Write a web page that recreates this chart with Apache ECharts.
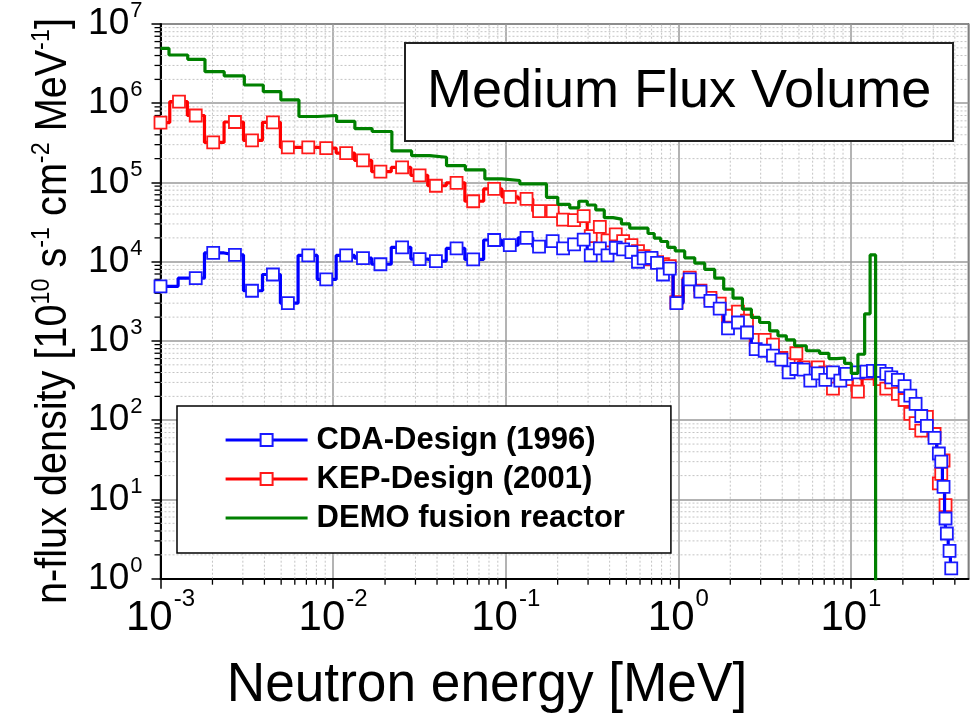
<!DOCTYPE html>
<html><head><meta charset="utf-8">
<script src="https://cdn.jsdelivr.net/npm/echarts@6/dist/echarts.min.js"></script>
<style>html,body{margin:0;padding:0;background:#fff}#c{width:974px;height:716px}</style>
</head><body><div id="c"></div>
<script>
// ---------------- data ----------------
const cdaEnergy = [0.001,0.0016,0.00202,0.0027,0.00339,0.00448,0.00547,0.00718,0.00912,0.0119,0.0149,0.0188,0.0251,0.0317,0.0394,0.0519,0.0648,0.0857,0.1056,0.132,0.156,0.187,0.215,0.249,0.283,0.311,0.351,0.389,0.434,0.479,0.535,0.584,0.630,0.699,0.753,0.815,0.892,0.975,1.164,1.343,1.535,1.737,1.94,2.217,2.50,2.807,3.165,3.535,3.954,4.358,4.83,5.322,5.82,6.44,7.11,7.87,8.68,9.41,10.98,12.28,13.41,14.66,16.03,17.13,18.71,20.46,22.08,23.70,25.56,27.55,30.52,32.32,33.37,34.41,35.34,35.96,37.28,38.13];
const cdaFlux = [4900,6200,12900,12200,4300,6900,3000,12000,6000,12000,11100,9300,15200,10800,10200,14700,10700,18800,16200,20000,15500,18200,14700,16600,19000,12000,14700,12000,15000,14300,13200,10000,11000,11200,9700,6900,8200,3000,6000,4200,3200,2560,1440,1710,1280,790,753,652,580,402,443,434,316,390,322,402,316,384,402,411,420,420,384,347,322,270,204,161,113,85,60,38,30,14.4,5.75,3.72,2.25,1.35];

const kepEnergy = [0.001,0.00128,0.0016,0.00202,0.0027,0.00339,0.00448,0.00547,0.00718,0.00912,0.0119,0.0149,0.0188,0.0251,0.0317,0.0394,0.0519,0.0648,0.0857,0.1056,0.132,0.156,0.187,0.215,0.249,0.283,0.311,0.351,0.389,0.434,0.479,0.535,0.584,0.630,0.699,0.753,0.815,0.892,0.975,1.164,1.343,1.535,1.737,1.94,2.217,2.50,2.807,3.165,3.535,3.954,4.358,4.83,5.322,5.82,6.44,7.11,7.87,8.68,9.41,10.98,12.28,13.41,14.66,16.03,17.13,18.71,20.46,22.08,23.70,25.56,27.55,30.52,32.32,33.37,34.41,35.34];
const kepFlux = [570000,1050000,700000,320000,580000,340000,575000,277000,277000,272000,235000,190000,137000,155000,123000,91000,99000,58000,83000,66000,62000,43500,43500,34000,33500,37600,21000,27600,18600,22100,18200,16200,13600,11800,10700,9900,9300,8800,3100,6300,4300,3500,2960,2080,2350,1800,1030,1030,900,610,510,700,465,400,465,400,250,375,330,230,390,420,330,250,300,215,180,120,92,74,110,67,16,21,31,8.5];

// DEMO: left bin edges (step holds value to the next edge)
const demoEnergy = [0.001,0.00112,0.001438,0.00181,0.00234,0.00306,0.00394,0.00498,0.00634,0.00809,0.01048,0.01337,0.01684,0.0219,0.0285,0.0363,0.0454,0.0584,0.0757,0.0949,0.1207,0.1723,0.2003,0.235,0.2651,0.2969,0.3323,0.3724,0.4186,0.4683,0.5231,0.6676,0.7251,0.7909,0.8682,0.9594,1.089,1.245,1.422,1.625,1.832,2.074,2.351,2.651,2.96,3.382,3.778,4.225,4.721,5.516,6.588,7.458,8.232,9.195,10.05,10.98,12.01,12.92,13.9];
const demoFlux = [4.92e6,4.06e6,3.58e6,2.5e6,2.21e6,1.70e6,1.40e6,1.10e6,6.8e5,7.0e5,5.9e5,4.77e5,4.4e5,2.5e5,2.18e5,2.08e5,1.63e5,1.44e5,1.11e5,1.06e5,9.6e4,6.5e4,5.3e4,4.78e4,5.8e4,5.2e4,4.5e4,3.6e4,3.45e4,3.0e4,2.65e4,2.27e4,1.98e4,1.8e4,1.52e4,1.37e4,1.12e4,9.6e3,8.0e3,6.2e3,4.5e3,3.47e3,2.52e3,1.98e3,1.71e3,1.34e3,1.16e3,1.03e3,870,753,697,600,610,521,390,680,2200,12200,0.01];

const seriesNames = ['CDA-Design (1996)','KEP-Design (2001)','DEMO fusion reactor'];
const xDecades = [0.001,0.01,0.1,1,10];
const yDecades = [1,10,100,1000,10000,100000,1000000];
const X_MIN = 0.001, X_MAX = 48, Y_MIN = 1, Y_MAX = 1e7;

const xMinorTicks = [];
xDecades.forEach(d => { for (let k = 2; k <= 9; k++) { const v = +(k * d).toPrecision(6); if (v < X_MAX) xMinorTicks.push(v); } });
const yMinorTicks = [];
yDecades.forEach(d => { for (let k = 2; k <= 9; k++) yMinorTicks.push(k * d); });

// ---------------- chart ----------------
const FONT = "'Liberation Sans', Arial, Helvetica, sans-serif";
const chart = echarts.init(document.getElementById('c'), null, {renderer: 'canvas'});

function powLabel(v, b, s) {
  const e = Math.log10(v), r = Math.round(e);
  if (Math.abs(e - r) > 1e-6) return '';
  return '{' + b + '|10}{' + s + '|' + r + '}';
}

const minorStyle = {stroke: '#c4c4c4', lineWidth: 1, lineDash: [2, 2]};
const LW = 3.2;

const option = {
  animation: false,
  backgroundColor: '#fff',
  title: {
    text: 'Medium Flux Volume',
    left: 405, top: 43,
    padding: [21, 22, 21, 22],
    borderColor: '#222', borderWidth: 2, backgroundColor: '#fff',
    textStyle: {fontFamily: FONT, fontSize: 54, fontWeight: 'normal', color: '#000', lineHeight: 56}
  },
  legend: {
    data: [
      {name: seriesNames[0], lineStyle: {width: 3.2}},
      {name: seriesNames[1], lineStyle: {width: 3.2}},
      {name: seriesNames[2], lineStyle: {width: 3.2}, itemStyle: {color: 'rgba(0,0,0,0)', borderColor: 'rgba(0,0,0,0)', borderWidth: 0, opacity: 0}}
    ],
    orient: 'vertical',
    left: 177, top: 406,
    padding: [18, 46, 19, 47],
    itemGap: 7,
    itemWidth: 82, itemHeight: 15,
    borderColor: '#000', borderWidth: 1.5, backgroundColor: '#fff',
    textStyle: {fontFamily: FONT, fontSize: 31, fontWeight: 'bold', color: '#000', lineHeight: 32, padding: [0, 0, 0, 4]}
  },
  grid: {
    left: 160.5, right: 5.5, top: 22.2, bottom: 137.3,
    show: true, borderColor: '#333', borderWidth: 1.5, backgroundColor: 'transparent'
  },
  xAxis: {
    type: 'log', logBase: 10, min: X_MIN, max: X_MAX, splitNumber: 5,
    axisLine: {show: true, lineStyle: {color: '#000', width: 2}},
    axisTick: {show: true, inside: false, length: 10, lineStyle: {color: '#000', width: 1.5}},
    splitLine: {show: true, lineStyle: {color: '#9a9a9a', width: 1.5}},
    minorTick: {show: false}, minorSplitLine: {show: false},
    axisLabel: {
      margin: 9, showMinLabel: true, showMaxLabel: false,
      formatter: v => powLabel(v, 'b', 's'),
      rich: {
        b: {fontFamily: FONT, fontSize: 42, color: '#000', lineHeight: 62},
        s: {fontFamily: FONT, fontSize: 24, color: '#000', verticalAlign: 'top', lineHeight: 24, padding: [0, 0, 0, 1]}
      }
    }
  },
  yAxis: {
    type: 'log', logBase: 10, min: Y_MIN, max: Y_MAX, splitNumber: 7,
    axisLine: {show: true, lineStyle: {color: '#000', width: 2}},
    axisTick: {show: true, inside: false, length: 9, lineStyle: {color: '#000', width: 1.5}},
    splitLine: {show: true, lineStyle: {color: '#9a9a9a', width: 1.5}},
    minorTick: {show: false}, minorSplitLine: {show: false},
    axisLabel: {
      margin: 18, showMinLabel: true, showMaxLabel: true,
      formatter: v => powLabel(v, 'b', 's'),
      rich: {
        b: {fontFamily: FONT, fontSize: 37, color: '#000', lineHeight: 48},
        s: {fontFamily: FONT, fontSize: 22, color: '#000', verticalAlign: 'top', lineHeight: 22, padding: [0, 0, 0, 1]}
      }
    }
  },
  graphic: [
    {
      type: 'text', x: 54, y: 311, rotation: Math.PI / 2, scaleX: 0.9, z: 10,
      style: {
        text: '{t|n-flux density [10}{s|10}{t| s}{s|-1}{t| cm}{s|-2}{t| MeV}{s|-1}{t|]}',
        align: 'center', verticalAlign: 'middle',
        rich: {
          t: {fontFamily: FONT, fontSize: 44, fill: '#000', lineHeight: 50},
          s: {fontFamily: FONT, fontSize: 26, fill: '#000', verticalAlign: 'top', lineHeight: 26}
        }
      }
    },
    {
      type: 'text', x: 487, y: 686, scaleX: 0.95, z: 10,
      style: {text: 'Neutron energy [MeV]', fontFamily: FONT, fontSize: 56, fill: '#000', align: 'center', verticalAlign: 'middle'}
    }
  ],
  series: [
    {
      type: 'custom', name: 'xminor', silent: true, z: 1, clip: false,
      data: xMinorTicks.map(v => [v, Y_MIN]),
      renderItem: (params, api) => {
        const x = api.value(0);
        const a = api.coord([x, Y_MIN]), b = api.coord([x, Y_MAX]);
        return {type: 'group', children: [
          {type: 'line', shape: {x1: a[0], y1: a[1], x2: b[0], y2: b[1]}, style: minorStyle},
          {type: 'line', shape: {x1: a[0], y1: a[1], x2: a[0], y2: a[1] + 6}, style: {stroke: '#000', lineWidth: 1.3}}
        ]};
      }
    },
    {
      type: 'custom', name: 'yminor', silent: true, z: 1, clip: false,
      data: yMinorTicks.map(v => [X_MIN, v]),
      renderItem: (params, api) => {
        const y = api.value(1);
        const a = api.coord([X_MIN, y]), b = api.coord([X_MAX, y]);
        return {type: 'group', children: [
          {type: 'line', shape: {x1: a[0], y1: a[1], x2: b[0], y2: b[1]}, style: minorStyle},
          {type: 'line', shape: {x1: a[0], y1: a[1], x2: a[0] - 6, y2: a[1]}, style: {stroke: '#000', lineWidth: 1.3}}
        ]};
      }
    },
    {
      name: seriesNames[1], type: 'line', step: 'middle', z: 3,
      data: kepEnergy.map((e, i) => [e, kepFlux[i]]),
      symbol: 'rect', symbolSize: 12, showSymbol: true,
      lineStyle: {color: '#ff0000', width: LW},
      itemStyle: {color: '#fff', borderColor: '#ff1a1a', borderWidth: 1.8}
    },
    {
      name: seriesNames[0], type: 'line', step: 'middle', z: 4,
      data: cdaEnergy.map((e, i) => [e, cdaFlux[i]]),
      symbol: 'rect', symbolSize: 12, showSymbol: true,
      lineStyle: {color: '#0000ff', width: LW},
      itemStyle: {color: '#fff', borderColor: '#1a1aff', borderWidth: 1.8}
    },
    {
      name: seriesNames[2], type: 'line', step: 'end', z: 5,
      data: demoEnergy.map((e, i) => [e, demoFlux[i]]),
      symbol: 'none', showSymbol: false,
      lineStyle: {color: '#008000', width: LW},
      itemStyle: {color: '#008000'}
    }
  ]
};
chart.setOption(option);
</script>
</body></html>
